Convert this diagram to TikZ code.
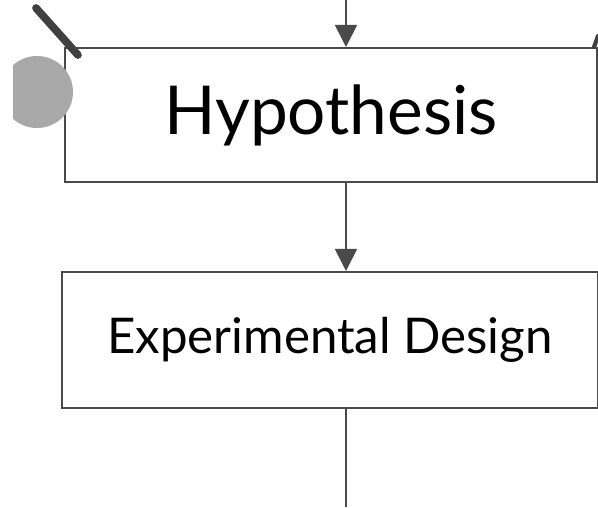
\documentclass[tikz,border=0pt]{standalone}
\usepackage{fontspec}
\setmainfont{Lato}
\usetikzlibrary{positioning,arrows.meta}
\definecolor{inkgray}{HTML}{4A4A4A}
\definecolor{dotgray}{HTML}{A8A8A8}
\tikzset{
  flowarrow/.style={-{Triangle[length=5.5mm, width=5.5mm]}, line width=1.2pt, draw=inkgray},
  flowline/.style={line width=1.2pt, draw=inkgray},
  stepbox/.style={draw=inkgray, line width=1.4pt, fill=white, inner sep=0pt, align=center},
  inlink/.style={line width=5.5pt, draw=black!75, line cap=round}
}
\begin{document}
\begin{tikzpicture}[x=0.025cm, y=-0.025cm]
  \useasboundingbox (0,0) rectangle (598,507);
  \node[stepbox, minimum width=13.3cm, minimum height=3.35cm, font=\fontsize{48}{56}\selectfont] (hyp) at (331,115) {Hypothesis};
  \node[stepbox, minimum width=13.375cm, minimum height=3.4cm, font=\fontsize{35}{42}\selectfont] (design) at (330,340) {Experimental Design};
  \begin{scope}
    \clip (13,0) rectangle (598,507);
    \node[circle, fill=dotgray, minimum size=1.8cm, inner sep=0pt] (dot) at (37,92) {};
  \end{scope}
  \coordinate (top) at (346,0);
  \coordinate (bottom) at (346,507);
  \coordinate (inleft) at (36,8);
  \coordinate (inright) at (598,36);
  \draw[flowarrow] (top) -- (hyp.north -| top);
  \draw[flowarrow] (hyp.south -| top) -- (design.north -| top);
  \draw[flowline] (design.south -| top) -- (bottom);
  \draw[inlink] (inleft) -- ([shift={(14,8)}]hyp.north west);
  \draw[inlink, line width=3pt] (inright) -- ([shift={(-4,0)}]hyp.north east);
\end{tikzpicture}
\end{document}
